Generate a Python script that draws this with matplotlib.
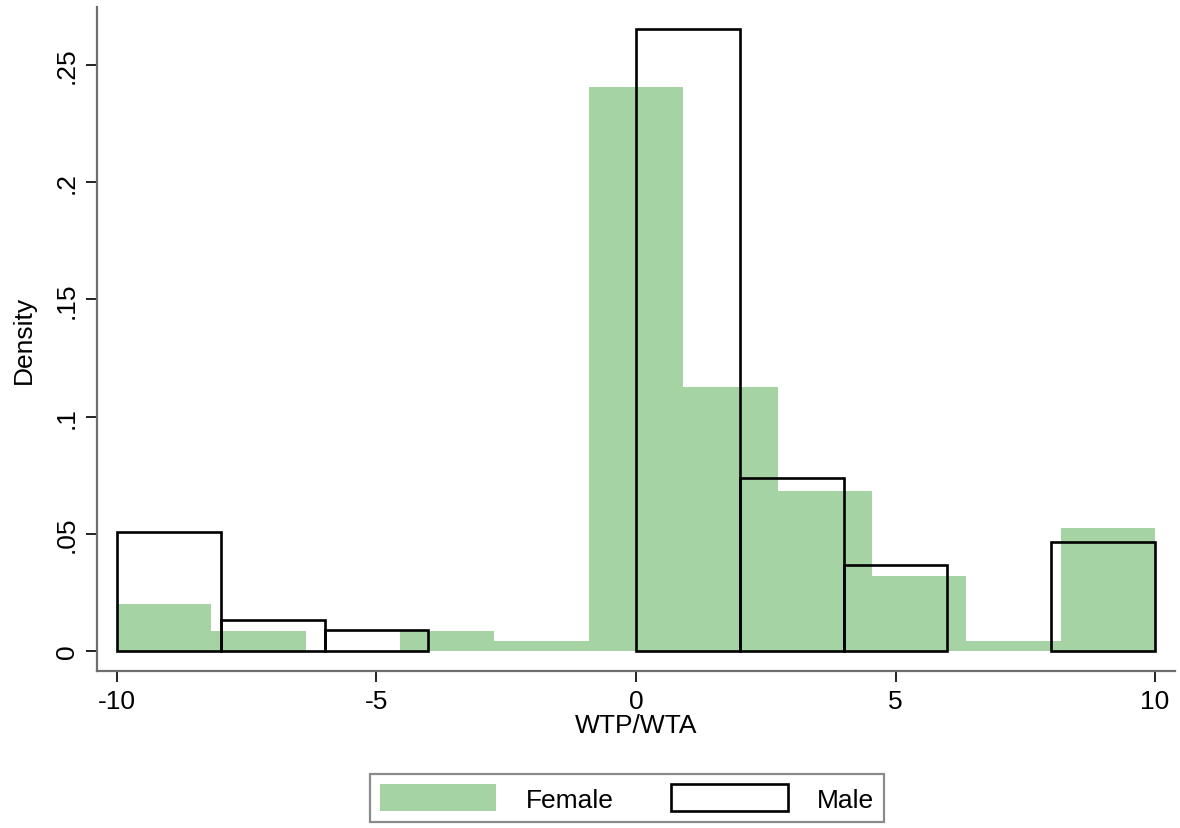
import matplotlib
matplotlib.use('Agg')
import matplotlib.pyplot as plt
import numpy as np
from matplotlib.patches import Patch

# Female: 11 bins from -10 to 10
female_edges = np.linspace(-10, 10, 12)
female_density = [0.020, 0.0085, 0.0, 0.0085, 0.0043, 0.2406, 0.1126, 0.0683, 0.032, 0.0043, 0.0525]

# Male: 10 bins of width 2
male_edges = np.linspace(-10, 10, 11)
male_density = [0.0508, 0.0132, 0.009, 0.0, 0.0, 0.2655, 0.0738, 0.0367, 0.0, 0.0465]

yticks = [0, 0.05, 0.1, 0.15, 0.2, 0.25]
ytick_labels = ['0', '.05', '.1', '.15', '.2', '.25']
xticks = [-10, -5, 0, 5, 10]

green = '#a6d3a4'
axis_gray = '#6e6e6e'

plt.rcParams['font.family'] = ['Liberation Sans', 'DejaVu Sans']

fig = plt.figure(figsize=(11.8, 8.29), dpi=100)
ax = fig.add_axes([97 / 1180, 1 - 672 / 829, (1175 - 97) / 1180, (672 - 8) / 829])

fw = np.diff(female_edges)
ax.bar(female_edges[:-1], female_density, width=fw, align='edge',
       color=green, edgecolor='none', linewidth=0)

mw = np.diff(male_edges)
for x0, w, h in zip(male_edges[:-1], mw, male_density):
    if h > 0:
        ax.bar(x0, h, width=w, align='edge', fill=False,
               edgecolor='black', linewidth=1.9)

ax.set_xlim(-10.385, 10.385)
ax.set_ylim(-0.0085, 0.2747)

ax.set_yticks(yticks)
ax.set_yticklabels(ytick_labels, rotation=90, va='center')
ax.set_xticks(xticks)
ax.set_xticklabels([str(t) for t in xticks])

for s in ['top', 'right']:
    ax.spines[s].set_visible(False)
for s in ['left', 'bottom']:
    ax.spines[s].set_color(axis_gray)
    ax.spines[s].set_linewidth(1.6)

ax.tick_params(axis='both', direction='out', length=8, width=1.4,
               color='#222222', labelsize=19, pad=5)

ax.set_xlabel('WTP/WTA', fontsize=19, labelpad=0)
ax.set_ylabel('Density', fontsize=19, labelpad=14)

handles = [Patch(facecolor=green, edgecolor='none', label='Female'),
           Patch(facecolor='white', edgecolor='black', linewidth=1.9, label='Male')]
leg = fig.legend(handles=handles, loc='center', ncol=2,
                 bbox_to_anchor=(627 / 1180, 1 - 799 / 829),
                 fontsize=19, frameon=True, fancybox=False,
                 handlelength=4.4, handleheight=1.2, columnspacing=2.2,
                 handletextpad=1.1, borderpad=0.4)
leg.get_frame().set_edgecolor(axis_gray)
leg.get_frame().set_linewidth(1.6)

fig.savefig('out.png', dpi=100, facecolor='white')
